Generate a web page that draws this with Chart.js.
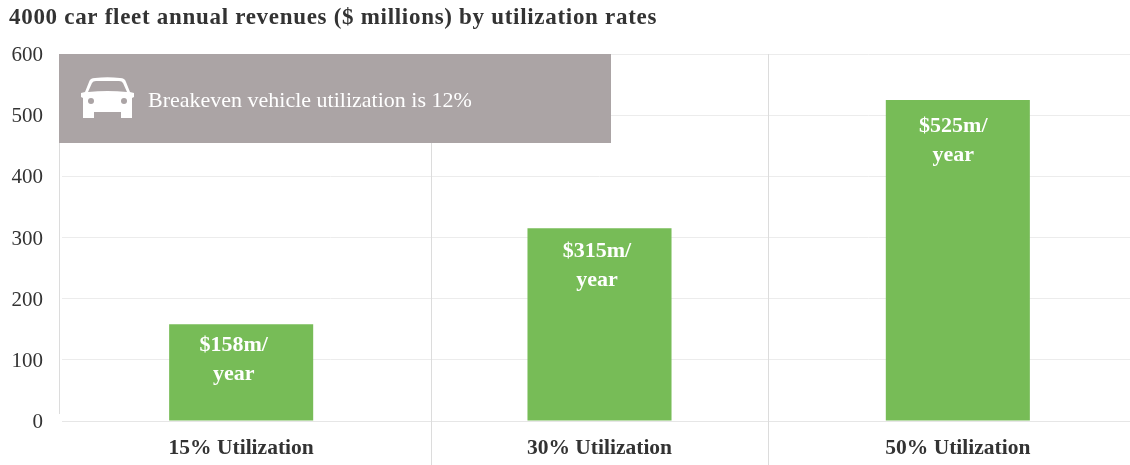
<!DOCTYPE html>
<html><head><meta charset="utf-8">
<style>html,body{margin:0;padding:0;background:#fff;overflow:hidden}#w{position:relative;width:1130px;height:465px;overflow:hidden}canvas{display:block}</style>
<script src="https://cdn.jsdelivr.net/npm/chart.js@4"></script></head>
<body><div id="w"><canvas id="c" width="1137" height="465"></canvas></div>
<script>
const categories = ["15% Utilization","30% Utilization","50% Utilization"];
const revenues = [158,315,525];
const barLabels = [["$158m/","year"],["$315m/","year"],["$525m/","year"]];
const yTicks = [0,100,200,300,400,500,600];
const titleText = "4000 car fleet annual revenues ($ millions) by utilization rates";
const bannerText = "Breakeven vehicle utilization is 12%";
const F = '"Liberation Serif"';
const labelShiftX = [-7.5,-2.5,-4.5];
const labelShiftY = [0,2,5];
const separators = [0.532,1.472];

const overlay = {
  id:'overlay',
  afterLayout(ch){
    const t=ch.titleBlock;
    if(t && !t._wrapped){
      const d=t.draw.bind(t);
      t.draw=function(){const c=ch.ctx;c.save();c.letterSpacing='0.7px';c.translate(9,0);d();c.restore();};
      t._wrapped=true;
    }
  },
  beforeDatasetsDraw(ch){
    const {ctx,chartArea:a,scales:{x,y}}=ch;
    ctx.save();
    ctx.strokeStyle='#dcdcdc';ctx.lineWidth=1;
    separators.forEach(v=>{
      const px=Math.round(x.getPixelForValue(0)+v*(x.getPixelForValue(1)-x.getPixelForValue(0)))-0.5;
      ctx.beginPath();ctx.moveTo(px,a.top);ctx.lineTo(px,465);ctx.stroke();
    });
    ctx.beginPath();ctx.moveTo(59.5,a.top);ctx.lineTo(59.5,y.getPixelForValue(0)-7);ctx.stroke();
    ctx.restore();
  },
  afterDatasetsDraw(ch){
    const {ctx,scales:{x,y}}=ch;
    ctx.save();
    ctx.textAlign='center';ctx.textBaseline='middle';
    ctx.fillStyle='#fff';ctx.font='bold 22px '+F;
    revenues.forEach((v,i)=>{
      const px=x.getPixelForValue(i)+labelShiftX[i], top=y.getPixelForValue(v)+labelShiftY[i];
      barLabels[i].forEach((t,j)=>ctx.fillText(t,px,top+21+j*29));
    });
    const bx=59,by=y.getPixelForValue(600),bw=552,bh=89;
    ctx.fillStyle='#aba4a5';ctx.fillRect(bx,by,bw,bh);
    ctx.fillStyle='#fff';ctx.textAlign='left';ctx.font='22px '+F;
    ctx.fillText(bannerText,148,by+47);
    const ox=81,oy=by+23;
    const P=(px,py)=>[ox+px,oy+py];
    ctx.beginPath();
    ctx.moveTo(...P(4,15));
    ctx.lineTo(...P(8,5));
    ctx.quadraticCurveTo(...P(9,1),...P(14,1));
    ctx.quadraticCurveTo(...P(26.5,-0.5),...P(39,1));
    ctx.quadraticCurveTo(...P(44,1),...P(45,5));
    ctx.lineTo(...P(49,15));
    ctx.lineTo(...P(53,16));ctx.lineTo(...P(53,20));ctx.lineTo(...P(51,21));
    ctx.lineTo(...P(51,41));ctx.lineTo(...P(40,41));ctx.lineTo(...P(40,35));
    ctx.lineTo(...P(13,35));ctx.lineTo(...P(13,41));ctx.lineTo(...P(2,41));
    ctx.lineTo(...P(2,21));ctx.lineTo(...P(0,20));ctx.lineTo(...P(0,16));
    ctx.closePath();ctx.fill();
    ctx.fillStyle='#aba4a5';
    ctx.beginPath();
    ctx.moveTo(...P(7,15));
    ctx.lineTo(...P(11,6));
    ctx.quadraticCurveTo(...P(12,4),...P(15,4));
    ctx.lineTo(...P(38,4));
    ctx.quadraticCurveTo(...P(41,4),...P(42,6));
    ctx.lineTo(...P(46,15));
    ctx.quadraticCurveTo(...P(26.5,13),...P(7,15));
    ctx.closePath();ctx.fill();
    ctx.beginPath();ctx.arc(ox+10,oy+24,3,0,7);ctx.fill();
    ctx.beginPath();ctx.arc(ox+43,oy+24,3,0,7);ctx.fill();
    ctx.restore();
  }
};

new Chart(document.getElementById('c'),{
  type:'bar',
  data:{labels:categories,datasets:[{data:revenues,backgroundColor:'#77bc57',barPercentage:0.402,categoryPercentage:1}]},
  plugins:[overlay],
  options:{
    responsive:false,animation:false,
    plugins:{legend:{display:false},tooltip:{enabled:false},
      title:{display:true,text:titleText,align:'start',color:'#333',font:{family:F,size:23,weight:'bold'},padding:{top:4,bottom:22.4}}},
    scales:{
      x:{afterFit(s){s.height=44;},grid:{display:false},border:{color:'#e6e6e6'},ticks:{color:'#333',font:{family:F,size:21.5,weight:'bold'},padding:7}},
      y:{min:0,max:600,afterBuildTicks(s){s.ticks=yTicks.map(v=>({value:v}));},
        afterFit(s){s.width=62;},
        grid:{color:'#ececec',drawTicks:false},border:{display:false},
        ticks:{color:'#333',font:{family:F,size:21},padding:19,labelOffset:1.5}}
    }
  }
});
</script></body></html>
